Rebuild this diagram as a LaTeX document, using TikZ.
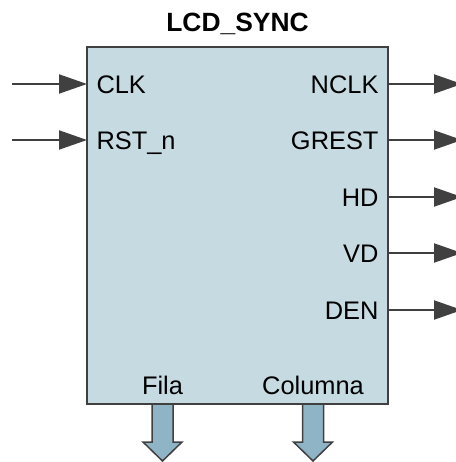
\documentclass[tikz,border=0pt]{standalone}
\usepackage{fontspec}
\setmainfont{Liberation Sans}
\usetikzlibrary{arrows.meta}
\definecolor{lcdLine}{HTML}{404040}
\definecolor{lcdFill}{HTML}{C6DAE1}
\definecolor{lcdBus}{HTML}{8FB4C5}
\tikzset{
  pinlabel/.style={inner sep=0pt, outer sep=0pt, text height=18.3bp, text depth=0pt,
    font=\fontsize{25.5}{30}\selectfont},
  sigarrow/.style={draw=lcdLine, line width=2bp, -{Triangle[length=28bp,width=19bp]}},
  busarrow/.style={draw=lcdLine, fill=lcdBus, line width=1.5bp, line join=miter},
}
\begin{document}
\begin{tikzpicture}[x=1bp, y=-1bp]
% LCD_SYNC block exported at 1bp per pixel
\clip (0,0) rectangle (456,462);
\def\pinsep{9.5bp}
% Block body
\node[draw=lcdLine, fill=lcdFill, line width=2.5bp, inner sep=0pt, outer sep=0pt,
  minimum width=301bp, minimum height=357bp, anchor=north west] (sync) at (87,47) {};
\node[pinlabel, text height=19bp, font=\fontsize{26.5}{31}\selectfont\bfseries] (title) at (237.5,22) {LCD\_SYNC};
% Inputs
\foreach \id/\y/\txt in {clk/84/CLK, rst/140/RST\_n} {
  \coordinate (\id src) at (12,\y);
  \coordinate (\id pin) at (sync.west |- 0,\y);
  \node[pinlabel, anchor=west] (\id) at ([xshift=\pinsep]\id pin) {\txt};
  \draw[sigarrow] (\id src) -- (\id pin);
}
% Outputs
\foreach \id/\y/\txt in {nclk/84/NCLK, grest/140/GREST, hd/197/HD, vd/253/VD, den/310/DEN} {
  \coordinate (\id pin) at (sync.east |- 0,\y);
  \coordinate (\id dst) at (462,\y);
  \node[pinlabel, anchor=east] (\id) at ([xshift=-\pinsep]\id pin) {\txt};
  \draw[sigarrow] (\id pin) -- (\id dst);
}
% Bus outputs
\node[pinlabel] (fila) at (162.5,385) {Fila};
\node[pinlabel] (columna) at (313,385) {Columna};
\foreach \id in {fila, columna} {
  \draw[busarrow] ([xshift=-10.5bp]\id.south |- sync.south) -- ++(0,38) -- ++(-9,0)
    -- ++(19.5,19) -- ++(19.5,-19) -- ++(-9,0) -- ++(0,-38) -- cycle;
}
\end{tikzpicture}
\end{document}
